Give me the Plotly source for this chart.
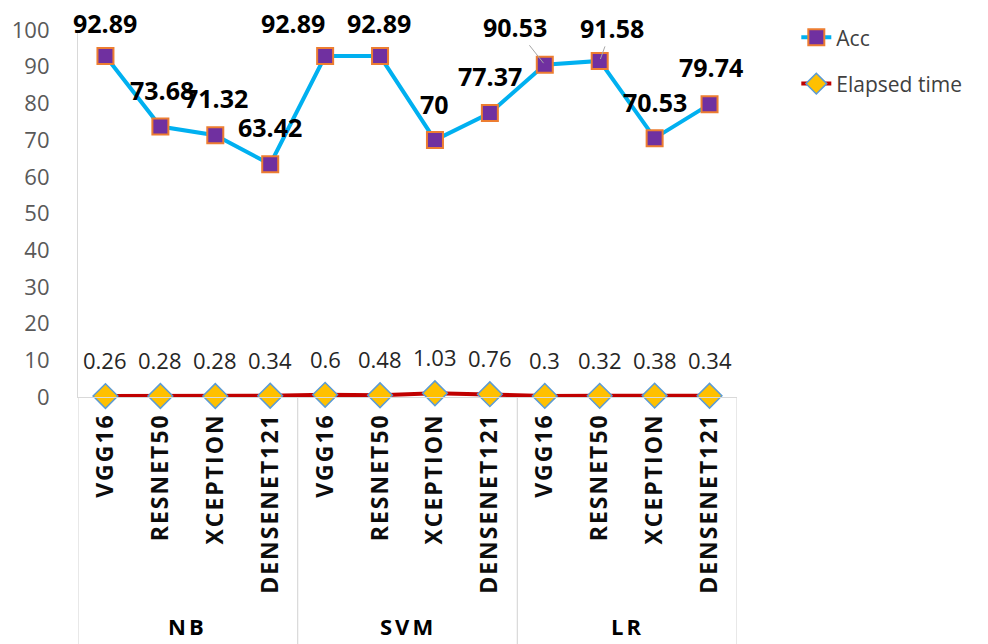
import plotly.graph_objects as go

# Classifier groups and the feature extractors evaluated under each
groups = ["NB", "SVM", "LR"]
models = ["VGG16", "RESNET50", "XCEPTION", "DENSENET121"]

# Accuracy (%) and elapsed time for each classifier / extractor pair
acc = [92.89, 73.68, 71.32, 63.42,
       92.89, 92.89, 70, 77.37,
       90.53, 91.58, 70.53, 79.74]
elapsed = [0.26, 0.28, 0.28, 0.34,
           0.6, 0.48, 1.03, 0.76,
           0.3, 0.32, 0.38, 0.34]

y_ticks = list(range(0, 101, 10))

categories = [m for _ in groups for m in models]
xs = list(range(len(categories)))

FONT = "Open Sans"
GRID = "#D9D9D9"

# label placement around each accuracy marker: (dx, dy, leader line)
acc_label_pos = [(0, 33, False), (2, 37, False), (1, 37, False), (0, 37, False),
                 (-32, 33, False), (-1, 33, False), (0, 36, False), (0, 37, False),
                 (-30, 38, True), (12, 33, True), (0, 36, False), (1, 37, False)]

fig = go.Figure()

fig.add_trace(go.Scatter(
    x=xs, y=acc, name="Acc", mode="lines+markers",
    line=dict(color="#00B0F0", width=4),
    marker=dict(symbol="square", size=16, color="#7030A0",
                line=dict(color="#ED7D31", width=2)),
    cliponaxis=False, legendrank=1, legendgroup="acc",
))
fig.add_trace(go.Scatter(
    x=xs, y=elapsed, name="Elapsed time", mode="lines+markers",
    line=dict(color="#C00000", width=4),
    marker=dict(symbol="diamond", size=19, color="#FFC000",
                line=dict(color="#5B9BD5", width=1.5)),
    cliponaxis=False, legendrank=2, legendgroup="time",
))

annotations = []
for x, v, (dx, dy, leader) in zip(xs, acc, acc_label_pos):
    txt = f"{v:g}"
    if leader:
        annotations.append(dict(
            x=x, y=v, xref="x", yref="y", text=txt, showarrow=True,
            ax=dx, ay=-dy, arrowhead=0, arrowwidth=1, arrowcolor="#A6A6A6",
            standoff=2,
            font=dict(family=FONT, size=25, color="#000000", weight=700),
        ))
    else:
        annotations.append(dict(
            x=x, y=v, xref="x", yref="y", text=txt, showarrow=False,
            xshift=dx, yshift=dy,
            font=dict(family=FONT, size=25, color="#000000", weight=700),
        ))

for x, v in zip(xs, elapsed):
    annotations.append(dict(
        x=x, y=v, xref="x", yref="y", text=f"{v:g}", showarrow=False,
        yshift=36, font=dict(family=FONT, size=22, color="#262626"),
    ))

# group captions and dividers below the category labels
n = len(models)
shapes = []
for gi, g in enumerate(groups):
    annotations.append(dict(
        x=gi * n + (n - 1) / 2, y=-0.625, xref="x", yref="paper",
        xanchor="center", yanchor="middle",
        text=f"<span style='letter-spacing:3px'>{g}</span>", showarrow=False,
        font=dict(family=FONT, size=22, color="#000000", weight=700),
    ))
for b in range(len(groups) + 1):
    shapes.append(dict(
        type="line", xref="x", yref="paper", x0=b * n - 0.5, x1=b * n - 0.5,
        y0=0, y1=-0.675, line=dict(color=GRID, width=1.2),
    ))

fig.update_layout(
    width=988, height=644,
    margin=dict(l=78, r=251, t=30, b=247),
    paper_bgcolor="white", plot_bgcolor="white",
    showlegend=True,
    legend=dict(
        x=1.09, y=1.035, xanchor="left", yanchor="top",
        font=dict(family=FONT, size=21, color="#404040"),
        bgcolor="rgba(0,0,0,0)", tracegroupgap=16, itemsizing="trace",
    ),
    annotations=annotations, shapes=shapes,
    xaxis=dict(
        range=[-0.5, len(categories) - 0.5],
        tickmode="array", tickvals=xs,
        ticktext=[f"<span style='letter-spacing:2px'>{c}</span>" for c in categories],
        tickangle=-90, showgrid=False, zeroline=False,
        showline=True, linecolor=GRID, linewidth=1.2,
        ticks="", ticklabelstandoff=6,
        tickfont=dict(family=FONT, size=23, color="#0D0D0D", weight=700),
        automargin=False,
    ),
    yaxis=dict(
        range=[0, 100], tickmode="array", tickvals=y_ticks,
        showgrid=False, zeroline=False,
        showline=True, linecolor=GRID, linewidth=1.2,
        ticks="", ticklabelstandoff=23,
        tickfont=dict(family=FONT, size=22, color="#595959"),
        automargin=False,
    ),
)

fig.write_html("out.html")
